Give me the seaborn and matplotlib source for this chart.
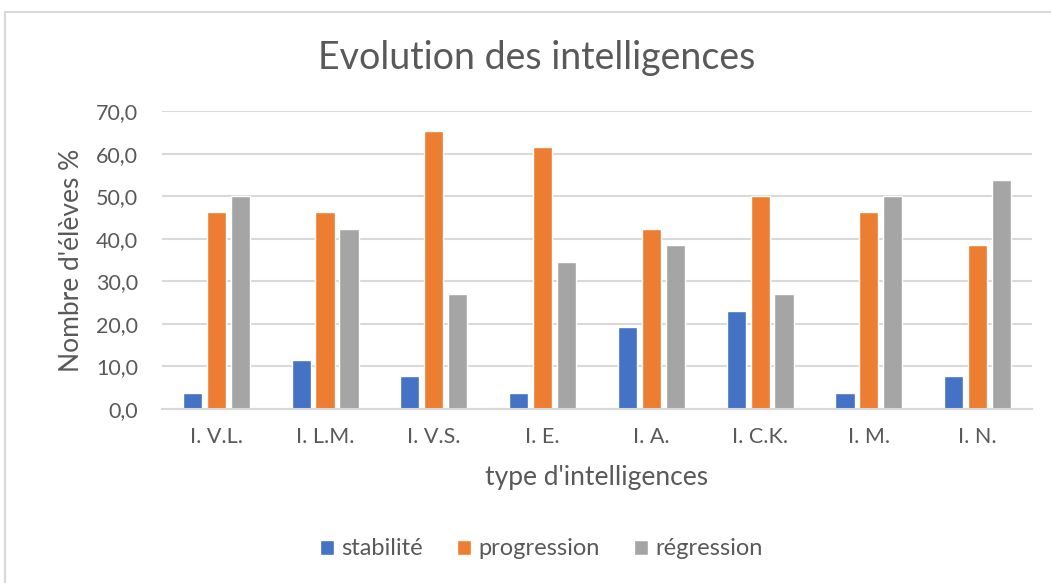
import numpy as np
import pandas as pd
import matplotlib.pyplot as plt
import seaborn as sns
from matplotlib.patches import Rectangle
from matplotlib.ticker import FuncFormatter, MultipleLocator

categories = ['I. V.L.', 'I. L.M.', 'I. V.S.', 'I. E.', 'I. A.', 'I. C.K.', 'I. M.', 'I. N.']
stabilite = [3.8, 11.5, 7.7, 3.8, 19.2, 23.1, 3.8, 7.7]
progression = [46.2, 46.2, 65.4, 61.5, 42.3, 50.0, 46.2, 38.5]
regression = [50.0, 42.3, 26.9, 34.6, 38.5, 26.9, 50.0, 53.8]
series = ['stabilité', 'progression', 'régression']
colors = ['#4472C4', '#ED7D31', '#A5A5A5']

df = pd.DataFrame({'cat': categories, 'stabilité': stabilite,
                   'progression': progression, 'régression': regression})
df = df.melt(id_vars='cat', var_name='serie', value_name='val')

sns.set_theme(style='white')
plt.rcParams['font.family'] = ['Lato', 'DejaVu Sans']
grey = '#595959'

fig = plt.figure(figsize=(10.51, 5.83), dpi=100)
ax = fig.add_axes([0.154, 0.2985, 0.828, 0.511])

sns.barplot(data=df, x='cat', y='val', hue='serie', hue_order=series,
            palette=colors, width=0.66, gap=0.2, saturation=1, ax=ax)

ax.set_ylim(0, 70)
ax.yaxis.set_major_locator(MultipleLocator(10))
ax.yaxis.set_major_formatter(FuncFormatter(lambda v, p: f'{v:.1f}'.replace('.', ',')))
ax.set_xlim(-0.5, len(categories) - 0.5)
ax.grid(axis='y', color='#d9d9d9', linewidth=1.5)
ax.set_axisbelow(True)
for s in ['top', 'right', 'left']:
    ax.spines[s].set_visible(False)
ax.spines['bottom'].set_color('#d9d9d9')
ax.spines['bottom'].set_linewidth(1.5)
ax.tick_params(axis='both', length=0, colors=grey, labelsize=15.5)
ax.tick_params(axis='x', pad=13)
ax.tick_params(axis='y', pad=17)

ax.set_xlabel("type d'intelligences", color=grey, fontsize=19, labelpad=13)
ax.set_ylabel("Nombre d'élèves %", color=grey, fontsize=19, labelpad=9)
fig.text(0.511, 0.9, 'Evolution des intelligences', ha='center', va='center',
         color=grey, fontsize=27)

ax.legend(loc='center', bbox_to_anchor=(0.436, -0.47), ncol=3, frameon=False,
          fontsize=17, labelcolor=grey, handlelength=0.6, handleheight=0.6,
          handletextpad=0.3, columnspacing=1.45)

fig.patches.append(Rectangle((5 / 1051, -0.1), 1.2, 1.1 - 12 / 583,
                             transform=fig.transFigure, fill=False,
                             edgecolor='#d9d9d9', linewidth=1.5))

fig.savefig('out.png', dpi=100, facecolor='white')
